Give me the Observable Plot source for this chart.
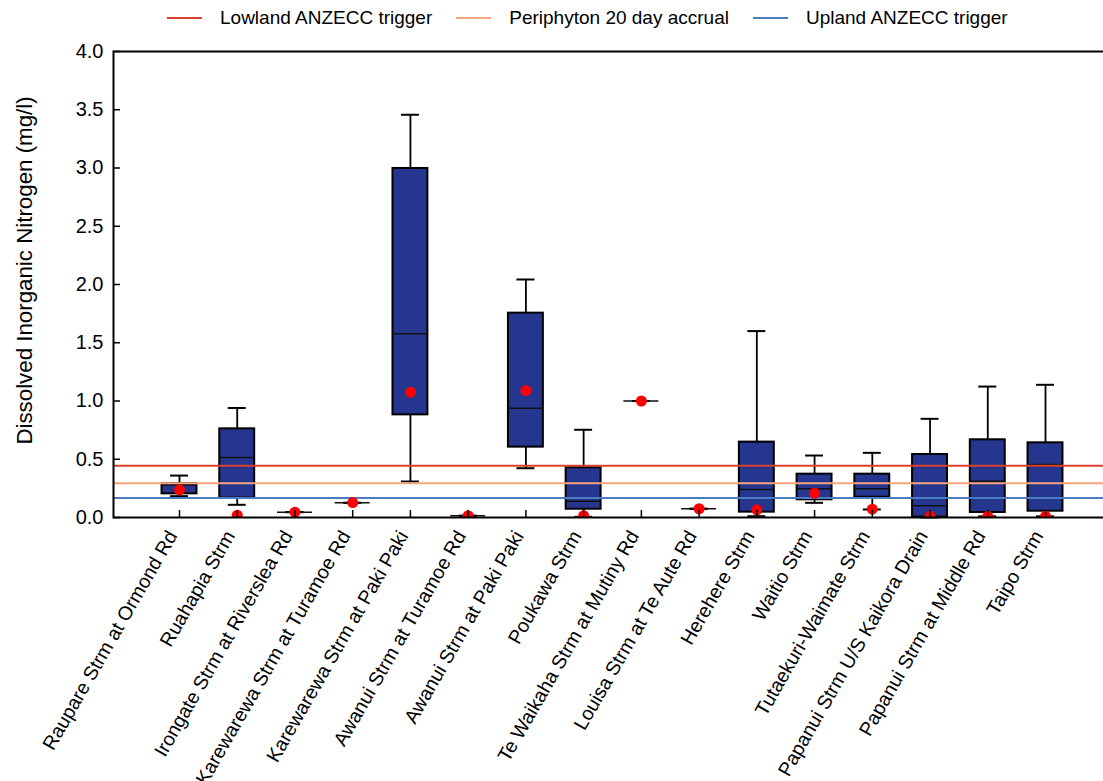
<!DOCTYPE html>
<html>
<head>
<meta charset="utf-8">
<script src="https://cdn.jsdelivr.net/npm/d3@7"></script>
<script src="https://cdn.jsdelivr.net/npm/@observablehq/plot@0.6"></script>
<style>
  html, body { margin: 0; padding: 0; background: #fff; overflow: hidden; width: 1103px; height: 781px; }
  body { font-family: "Liberation Sans", Arial, sans-serif; }
  #legend { height: 36px; display: flex; align-items: center; padding-left: 167px; font-size: 19px; color: #000; box-sizing: border-box; }
  .item { display: flex; align-items: center; margin-right: 24px; }
  .swatch { width: 35px; height: 2px; margin-right: 18px; }
</style>
</head>
<body>
<div id="legend"></div>
<div id="chart"></div>
<script>
const stations = [
  "Raupare Strm at Ormond Rd",
  "Ruahapia Strm",
  "Irongate Strm at Riverslea Rd",
  "Karewarewa Strm at Turamoe Rd",
  "Karewarewa Strm at Paki Paki",
  "Awanui Strm at Turamoe Rd",
  "Awanui Strm at Paki Paki",
  "Poukawa Strm",
  "Te Waikaha Strm at Mutiny Rd",
  "Louisa Strm at Te Aute Rd",
  "Herehere Strm",
  "Waitio Strm",
  "Tutaekuri-Waimate Strm",
  "Papanui Strm U/S Kaikora Drain",
  "Papanui Strm at Middle Rd",
  "Taipo Strm"
];
const whiskerLow  = [0.183, 0.109, 0.046, 0.126, 0.309, 0.015, 0.423, 0.005, 1.0, 0.075, 0.011, 0.126, 0.069, 0.0,   0.01,  0.01];
const q1          = [0.203, 0.166, 0.046, 0.126, 0.881, 0.015, 0.604, 0.071, 1.0, 0.075, 0.046, 0.152, 0.174, 0.003, 0.043, 0.054];
const median      = [0.28,  0.515, 0.046, 0.126, 1.577, 0.015, 0.938, 0.14,  1.0, 0.075, 0.24,  0.246, 0.246, 0.10,  0.312, 0.455];
const q3          = [0.29,  0.761, 0.046, 0.126, 2.996, 0.015, 1.754, 0.427, 1.0, 0.075, 0.647, 0.372, 0.372, 0.541, 0.667, 0.641];
const whiskerHigh = [0.36,  0.94,  0.046, 0.126, 3.457, 0.015, 2.043, 0.753, 1.0, 0.075, 1.6,   0.532, 0.555, 0.847, 1.124, 1.139];
const means       = [0.238, 0.02,  0.046, 0.128, 1.076, 0.015, 1.09,  0.015, 1.0, 0.075, 0.066, 0.209, 0.071, 0.01,  0.01,  0.01];

const triggerNames  = ["Lowland ANZECC trigger", "Periphyton 20 day accrual", "Upland ANZECC trigger"];
const triggerValues = [0.444, 0.295, 0.167];
const triggerColors = ["#D9412F", "#F8A47C", "#4A7CBF"];

const yTicks = [0, 0.5, 1.0, 1.5, 2.0, 2.5, 3.0, 3.5, 4.0];
const yTitle = "Dissolved Inorganic Nitrogen (mg/l)";

const rows = stations.map((s, i) => ({
  station: s, lo: whiskerLow[i], q1: q1[i], med: median[i], q3: q3[i], hi: whiskerHigh[i], mean: means[i]
}));

// legend
const legend = document.getElementById("legend");
triggerNames.forEach((name, i) => {
  const it = document.createElement("div");
  it.className = "item";
  const sw = document.createElement("div");
  sw.className = "swatch";
  sw.style.background = triggerColors[i];
  const tx = document.createElement("span");
  tx.textContent = name;
  it.appendChild(sw); it.appendChild(tx);
  legend.appendChild(it);
});

const boxFill = "#25368F";
const boxInset = 11.4;
const capInset = 19.9;

const chart = Plot.plot({
  width: 1103,
  height: 745,
  marginTop: 15,
  marginBottom: 264,
  marginLeft: 113,
  marginRight: -10,
  style: { fontFamily: "Liberation Sans, Arial, sans-serif", overflow: "hidden", background: "#fff" },
  x: { type: "band", domain: stations, range: [150.13, 1073.87], padding: 0, round: false },
  y: { domain: [0, 4] },
  marks: [
    Plot.ruleX(rows, { x: "station", y1: "lo", y2: "q1", stroke: "black", strokeWidth: 1.8 }),
    Plot.ruleX(rows, { x: "station", y1: "q3", y2: "hi", stroke: "black", strokeWidth: 1.8 }),
    Plot.tickY(rows, { x: "station", y: "lo", stroke: "black", strokeWidth: 2, insetLeft: capInset, insetRight: capInset }),
    Plot.tickY(rows, { x: "station", y: "hi", stroke: "black", strokeWidth: 2, insetLeft: capInset, insetRight: capInset }),
    Plot.barY(rows, { x: "station", y1: "q1", y2: "q3", fill: boxFill, stroke: "black", strokeWidth: 2, insetLeft: boxInset, insetRight: boxInset }),
    Plot.tickY(rows, { x: "station", y: "med", stroke: "#111", strokeWidth: 1.5, insetLeft: boxInset, insetRight: boxInset }),
    ...triggerValues.map((v, i) => Plot.ruleY([v], { stroke: triggerColors[i], strokeWidth: 2 })),
    Plot.dot(rows, { x: "station", y: "mean", r: 5.5, fill: "#FF0000", stroke: "none", clip: true }),
    Plot.frame({ stroke: "black", strokeWidth: 2 }),
    Plot.axisY({ ticks: yTicks, tickSize: -7, fill: "none", stroke: "black", strokeWidth: 1.5, label: null }),
    Plot.axisY({ ticks: yTicks, tickSize: 0, tickPadding: 10, tickFormat: d3.format(".1f"), fontSize: 20, fill: "black", label: null }),
    Plot.axisX({ tickSize: -7, fill: "none", stroke: "black", strokeWidth: 1.5, label: null }),
    Plot.axisX({ tickSize: 0, tickPadding: 15, tickRotate: -60, dx: -7, fontSize: 19.5, fill: "black", label: null }),
    Plot.text([yTitle], { text: d => d, frameAnchor: "left", textAnchor: "middle", rotate: -90, dx: -89, dy: -14, fontSize: 22.3, fill: "black" })
  ]
});
document.getElementById("chart").appendChild(chart);
</script>
</body>
</html>
